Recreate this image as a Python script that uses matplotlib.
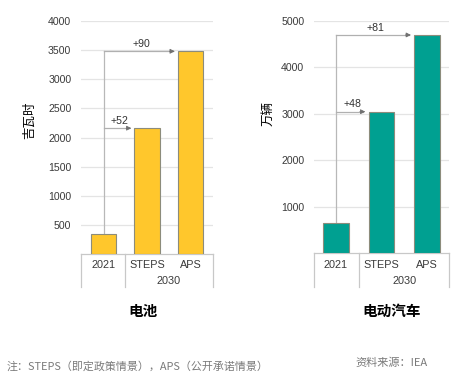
import matplotlib
matplotlib.use("Agg")
import matplotlib.pyplot as plt

W, H = 476, 392

# data
categories = ["2021", "STEPS", "APS"]
battery_gwh = [340, 2160, 3480]
ev_10k = [660, 3050, 4700]
battery_ticks = [500, 1000, 1500, 2000, 2500, 3000, 3500, 4000]
ev_ticks = [1000, 2000, 3000, 4000, 5000]
battery_growth = ["+52", "+90"]
ev_growth = ["+48", "+81"]

LAT = ["Liberation Sans", "Noto Sans CJK SC"]
CJK = ["Noto Sans CJK SC", "DejaVu Sans"]

fig = plt.figure(figsize=(W / 100, H / 100), dpi=100)


def px_axes(x0, x1, y_top, y_bot):
    return fig.add_axes([x0 / W, 1 - y_bot / H, (x1 - x0) / W, (y_bot - y_top) / H])


def panel(ax, values, ticks, ymax, xlim, width, color, growth, ylabel, title,
          bottom_px, ylabel_xy, title_x):
    ax.bar(range(3), values, width=width, color=color, edgecolor="#8c8c7c",
           linewidth=0.8, zorder=3)
    ax.set_xlim(*xlim)
    ax.set_ylim(0, ymax)
    ax.set_yticks(ticks)
    ax.set_yticklabels([str(t) for t in ticks], family=LAT, fontsize=7.6,
                       color="#3a3a3a")
    ax.tick_params(axis="y", length=0, pad=7)
    ax.set_xticks([])
    for s in ax.spines.values():
        s.set_visible(False)
    ax.grid(axis="y", color="#e4e4e4", linewidth=0.9, zorder=0)

    # growth arrows from the 2021 bar
    x0 = 0
    ax.plot([x0, x0], [values[0], values[2]], color="#b8b8b8", lw=0.9, zorder=2)
    for i, lab in zip((1, 2), growth):
        end = i - width / 2 - 0.07
        ax.plot([x0, end - 0.05], [values[i], values[i]], color="#b0b0b0",
                lw=0.9, zorder=2)
        ax.annotate("", xy=(end, values[i]), xytext=(end - 0.12, values[i]),
                    arrowprops=dict(arrowstyle="-|>", color="#707070", lw=0.6,
                                    mutation_scale=7, shrinkA=0, shrinkB=0),
                    zorder=4)
        ax.text((x0 + end) / 2 + 0.05, values[i] + ymax * 0.01, lab,
                ha="center", va="bottom", fontsize=7.6, family=LAT,
                color="#333333")

    # category box under the axis
    ah = ax.get_position().height * H

    def fy(p):
        return -p / ah
    tr = ax.get_xaxis_transform()
    lo, hi = xlim
    kw = dict(transform=tr, clip_on=False, color="#c8c8c8", lw=0.9)
    ax.plot([lo, hi], [0, 0], **kw)
    for xv in (lo, 0.5, hi):
        ax.plot([xv, xv], [0, fy(bottom_px)], **kw)
    for i, c in enumerate(categories):
        ax.text(i, fy(11.5), c, transform=tr, ha="center", va="center",
                fontsize=7.8, family=LAT, color="#3a3a3a")
    ax.text(1.5, fy(27.5), "2030", transform=tr, ha="center", va="center",
            fontsize=7.8, family=LAT, color="#3a3a3a")

    fig.text(ylabel_xy[0] / W, 1 - ylabel_xy[1] / H, ylabel, rotation=90,
             ha="center", va="center", fontsize=9, family=CJK, color="#000000")
    fig.text(title_x / W, 1 - 311 / H, title, ha="center", va="center",
             fontsize=10.5, family=CJK, weight="bold", color="#000000")


ax1 = px_axes(81, 213, 21, 254)
panel(ax1, battery_gwh, battery_ticks, 4000, (-0.52, 2.52), 0.58, "#FFC72C",
      battery_growth, "吉瓦时", "电池", 33, (30, 120), 143)

ax2 = px_axes(314, 449, 21, 253.5)
panel(ax2, ev_10k, ev_ticks, 5000, (-0.48, 2.48), 0.57, "#00A091",
      ev_growth, "万辆", "电动汽车", 33, (268, 113), 392)

fig.text(7 / W, 1 - 366 / H, "注：STEPS（即定政策情景），APS（公开承诺情景）",
         ha="left", va="center", fontsize=7.9, family=CJK, color="#7a7a7a")
fig.text(355 / W, 1 - 363 / H, "资料来源：IEA", ha="left", va="center",
         fontsize=8, family=CJK, color="#7a7a7a", style="italic")

fig.savefig("out.png", dpi=100)
